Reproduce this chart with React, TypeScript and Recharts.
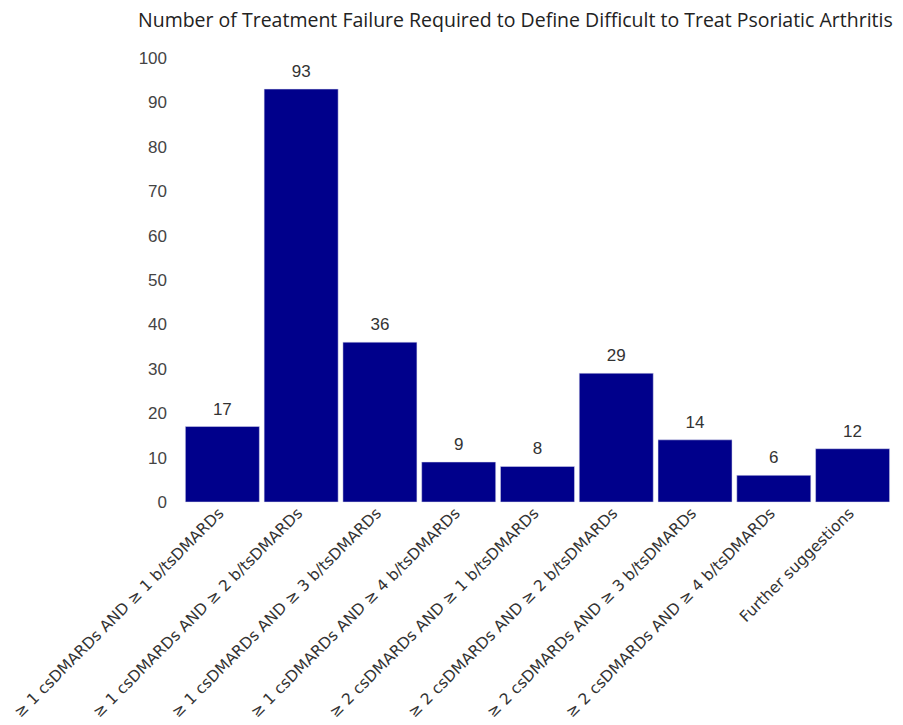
import { BarChart, Bar, XAxis, YAxis, LabelList } from "recharts";

const categories = [
  "≥ 1 csDMARDs AND ≥ 1 b/tsDMARDs",
  "≥ 1 csDMARDs AND ≥ 2 b/tsDMARDs",
  "≥ 1 csDMARDs AND ≥ 3 b/tsDMARDs",
  "≥ 1 csDMARDs AND ≥ 4 b/tsDMARDs",
  "≥ 2 csDMARDs AND ≥ 1 b/tsDMARDs",
  "≥ 2 csDMARDs AND ≥ 2 b/tsDMARDs",
  "≥ 2 csDMARDs AND ≥ 3 b/tsDMARDs",
  "≥ 2 csDMARDs AND ≥ 4 b/tsDMARDs",
  "Further suggestions",
];
const counts = [17, 93, 36, 9, 8, 29, 14, 6, 12];
const yTicks = [0, 10, 20, 30, 40, 50, 60, 70, 80, 90, 100];

const data = categories.map((name, i) => ({ name, count: counts[i] }));

function XTick(props: any) {
  const { x, y, payload } = props;
  return (
    <g transform={`translate(${x - 2},${y})`}>
      <text
        textAnchor="end"
        transform="rotate(-45)"
        fontFamily="DejaVu Sans, sans-serif"
        fontSize={15.5}
        fill="#333"
        dy={6}
      >
        {payload.value}
      </text>
    </g>
  );
}

export default function App() {
  return (
    <div style={{ position: "absolute", left: 0, top: 0, width: 903, height: 725, background: "#fff" }}>
      <div
        style={{
          position: "absolute",
          left: 138,
          top: 6,
          fontFamily: "'Open Sans', sans-serif",
          fontSize: 19.5,
          color: "#222",
          whiteSpace: "nowrap",
        }}
      >
        Number of Treatment Failure Required to Define Difficult to Treat Psoriatic Arthritis
      </div>
      <BarChart
        width={903}
        height={725}
        data={data}
        margin={{ top: 58, right: 11, left: 0, bottom: 193 }}
        barCategoryGap="3%"
      >
        <XAxis
          dataKey="name"
          interval={0}
          axisLine={false}
          tickLine={false}
          tick={<XTick />}
        />
        <YAxis
          width={183}
          domain={[0, 100]}
          ticks={yTicks}
          axisLine={false}
          tickLine={false}
          tickMargin={10}
          tick={{ fontSize: 17, fill: "#444", fontFamily: "Liberation Sans, Arial, sans-serif" }}
        />
        <Bar dataKey="count" fill="#00008B" stroke="#dde" strokeWidth={0.5} isAnimationActive={false}>
          <LabelList
            dataKey="count"
            position="top"
            offset={12}
            fill="#333"
            fontSize={17}
            fontFamily="Liberation Sans, Arial, sans-serif"
          />
        </Bar>
      </BarChart>
    </div>
  );
}
